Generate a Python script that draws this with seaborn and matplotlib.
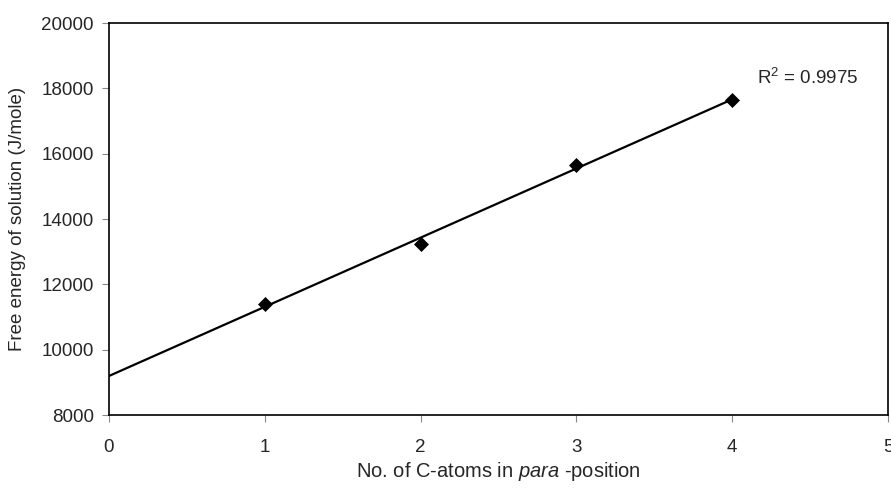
import numpy as np
import pandas as pd
import seaborn as sns
import matplotlib.pyplot as plt

# data
n_carbons = [1, 2, 3, 4]
free_energy = [11400, 13240, 15660, 17650]
r2_label = "R$^2$ = 0.9975"

sns.set_style("white")
plt.rcParams['font.family'] = ['Liberation Sans', 'DejaVu Sans']
plt.rcParams['mathtext.fontset'] = 'custom'
plt.rcParams['mathtext.rm'] = 'Liberation Sans'
plt.rcParams['mathtext.it'] = 'Liberation Sans:italic'

df = pd.DataFrame({'n': n_carbons, 'g': free_energy})

# linear trend line from x=0 to last point
slope, intercept = np.polyfit(df['n'], df['g'], 1)
fit = pd.DataFrame({'n': [0, max(n_carbons)]})
fit['g'] = intercept + slope * fit['n']

fig = plt.figure(figsize=(8.91, 4.88), dpi=100)
ax = fig.add_axes([109 / 891, 1 - 415 / 488, (888 - 109) / 891, (415 - 23) / 488])

sns.lineplot(data=fit, x='n', y='g', ax=ax, color='black', linewidth=1.6)
sns.scatterplot(data=df, x='n', y='g', ax=ax, marker='D', color='black',
                s=50, edgecolor='black', zorder=3)

ax.set_xlim(0, 5)
ax.set_ylim(8000, 20000)
ax.set_xticks(range(0, 6))
ax.set_yticks(range(8000, 20001, 2000))

for s in ax.spines.values():
    s.set_color('black')
    s.set_linewidth(1.2)
ax.tick_params(axis='both', which='major', direction='out', length=5, width=0.8,
               color='#888888', labelsize=13.5, pad=6, bottom=True, left=True)
ax.tick_params(axis='x', pad=12)

ax.set_xlabel('No. of C-atoms in $\\it{para}$ -position', fontsize=14.5)
ax.set_ylabel('Free energy of solution (J/mole)', fontsize=13.5)
ax.xaxis.set_label_coords(0.5, -0.115)
ax.yaxis.set_label_coords(-0.106, 0.5)

ax.text(4.16, 18120, r2_label, fontsize=13.5, va='baseline', ha='left')

plt.savefig('out.png', dpi=100)
